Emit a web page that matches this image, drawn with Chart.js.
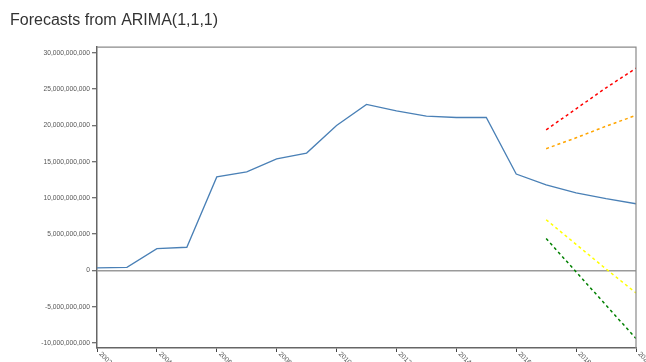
<!DOCTYPE html>
<html>
<head>
<meta charset="utf-8">
<title>Forecasts from ARIMA(1,1,1)</title>
<script src="https://cdn.jsdelivr.net/npm/chart.js@4/dist/chart.umd.min.js"></script>
<style>
    html, body { margin: 0; padding: 0; background: #fff; }
    canvas { display: block; }
</style>
</head>
<body>
<canvas id="chart" width="646" height="362"></canvas>
<script>
// Datos (en miles de millones)
const years = [2002, 2003, 2004, 2005, 2006, 2007, 2008, 2009, 2010, 2011, 2012, 2013, 2014, 2015, 2016];
const observed = [0.35, 0.42, 3.0, 3.2, 12.9, 13.6, 15.4, 16.2, 20.0, 22.9, 22.0, 21.3, 21.1, 21.1, 13.3];

const forecastYears = [2017, 2018, 2019, 2020];
const forecastMean = [11.8, 10.7, 9.9, 9.2];
const upper95 = [19.4, 22.3, 25.2, 27.9];
const upper80 = [16.8, 18.3, 19.9, 21.4];
const lower80 = [7.0, 3.6, 0.2, -3.1];
const lower95 = [4.4, -0.2, -4.8, -9.4];

// Etiquetas de los ejes
const xTicks = [2002, 2004, 2006, 2008, 2010, 2012, 2014, 2016, 2018, 2020];
const yTicks = [-10, -5, 0, 5, 10, 15, 20, 25, 30];

const BILLION = 1e9;
const FONT = "Arial, 'Liberation Sans', sans-serif";

// Convertir arrays a puntos {x, y}
function toPoints(xs, ys) {
    return xs.map((x, i) => ({ x: x, y: ys[i] * BILLION }));
}

const linePoints = toPoints(years.concat(forecastYears), observed.concat(forecastMean));

function bandDataset(values, color) {
    return {
        data: toPoints(forecastYears, values),
        borderColor: color,
        borderWidth: 1.5,
        borderDash: [3, 3],
        pointRadius: 0,
        fill: false
    };
}

// Marco superior/derecho y etiquetas rotadas del eje X
const framePlugin = {
    id: 'frame',
    afterDraw: function(chart) {
        const ctx = chart.ctx;
        const area = chart.chartArea;
        ctx.save();
        ctx.strokeStyle = '#8a8a8a';
        ctx.lineWidth = 1.2;
        ctx.beginPath();
        ctx.moveTo(area.left, area.top);
        ctx.lineTo(area.right, area.top);
        ctx.lineTo(area.right, area.bottom);
        ctx.stroke();

        const xScale = chart.scales.x;
        ctx.fillStyle = '#555';
        ctx.font = '6.8px ' + FONT;
        ctx.textAlign = 'left';
        ctx.textBaseline = 'middle';
        xTicks.forEach(year => {
            const px = xScale.getPixelForValue(year);
            ctx.save();
            ctx.translate(px + 3, area.bottom + 5);
            ctx.rotate(Math.PI / 4);
            ctx.fillText(String(year), 0, 0);
            ctx.restore();
        });
        ctx.restore();
    }
};

new Chart(document.getElementById('chart'), {
    type: 'line',
    data: {
        datasets: [
            {
                data: linePoints,
                borderColor: '#4a80b6',
                borderWidth: 1.3,
                pointRadius: 0,
                fill: false,
                tension: 0
            },
            bandDataset(upper95, 'red'),
            bandDataset(upper80, 'orange'),
            bandDataset(lower80, 'yellow'),
            bandDataset(lower95, 'green')
        ]
    },
    options: {
        responsive: false,
        animation: false,
        devicePixelRatio: 1,
        layout: {
            padding: { left: 10, right: 10, top: 0, bottom: 0 }
        },
        plugins: {
            legend: { display: false },
            tooltip: { enabled: false },
            title: {
                display: true,
                text: 'Forecasts from ARIMA(1,1,1)',
                align: 'start',
                color: '#333',
                font: { family: FONT, size: 16, weight: 'normal' },
                padding: { top: 11, bottom: 17 }
            }
        },
        scales: {
            x: {
                type: 'linear',
                min: 2002,
                max: 2020,
                afterBuildTicks: function(scale) {
                    scale.ticks = xTicks.map(v => ({ value: v }));
                },
                afterFit: function(scale) {
                    scale.height = 14;
                },
                grid: {
                    drawOnChartArea: false,
                    drawTicks: true,
                    tickLength: 4,
                    tickColor: '#444',
                    tickWidth: 1
                },
                border: { display: true, color: '#666', width: 1.5 },
                ticks: { display: false }
            },
            y: {
                min: -10.7 * BILLION,
                max: 30.8 * BILLION,
                afterBuildTicks: function(scale) {
                    scale.ticks = yTicks.map(v => ({ value: v * BILLION }));
                },
                afterFit: function(scale) {
                    scale.width = 87;
                },
                grid: {
                    drawOnChartArea: true,
                    drawTicks: true,
                    tickLength: 5,
                    tickColor: '#444',
                    tickWidth: 1,
                    lineWidth: 1.5,
                    color: function(ctx) {
                        return ctx.tick && ctx.tick.value === 0 ? '#9a9a9a' : 'rgba(0,0,0,0)';
                    }
                },
                border: { display: true, color: '#666', width: 1.5 },
                ticks: {
                    padding: 2,
                    color: '#555',
                    font: { family: FONT, size: 6.7 },
                    callback: function(value) {
                        return value.toLocaleString('en-US');
                    }
                }
            }
        }
    },
    plugins: [framePlugin]
});
</script>
</body>
</html>
